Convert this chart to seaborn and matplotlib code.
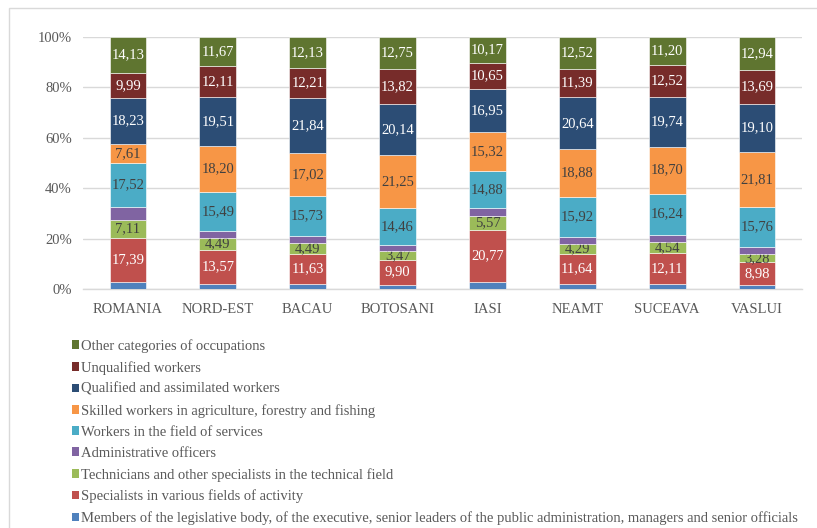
import matplotlib
matplotlib.use("Agg")
import matplotlib.pyplot as plt
from matplotlib.patches import Patch, Rectangle
from matplotlib.ticker import FuncFormatter
import seaborn as sns

regions = ["ROMANIA", "NORD-EST", "BACAU", "BOTOSANI", "IASI", "NEAMT", "SUCEAVA", "VASLUI"]

# Occupation shares (%) per region, bottom to top of each bar
members = [2.91, 2.06, 2.10, 1.75, 2.70, 2.10, 2.05, 1.60]
specialists = [17.39, 13.57, 11.63, 9.90, 20.77, 11.64, 12.11, 8.98]
technicians = [7.11, 4.49, 4.49, 3.47, 5.57, 4.29, 4.54, 3.28]
administrative = [5.11, 2.90, 2.85, 2.46, 2.99, 2.62, 2.90, 2.84]
services = [17.52, 15.49, 15.73, 14.46, 14.88, 15.92, 16.24, 15.76]
agriculture = [7.61, 18.20, 17.02, 21.25, 15.32, 18.88, 18.70, 21.81]
qualified = [18.23, 19.51, 21.84, 20.14, 16.95, 20.64, 19.74, 19.10]
unqualified = [9.99, 12.11, 12.21, 13.82, 10.65, 11.39, 12.52, 13.69]
other = [14.13, 11.67, 12.13, 12.75, 10.17, 12.52, 11.20, 12.94]

series = [
    ("Members of the legislative body, of the executive, senior leaders of the public administration, managers and senior officials",
     members, "#4F81BD", None),
    ("Specialists in various fields of activity", specialists, "#C0504D", "white"),
    ("Technicians and other specialists in the technical field", technicians, "#9BBB59", "#404040"),
    ("Administrative officers", administrative, "#8064A2", None),
    ("Workers in the field of services", services, "#4BACC6", "#404040"),
    ("Skilled workers in agriculture, forestry and fishing", agriculture, "#F79646", "#404040"),
    ("Qualified and assimilated workers", qualified, "#2C4D75", "white"),
    ("Unqualified workers", unqualified, "#772C2A", "white"),
    ("Other categories of occupations", other, "#5F7530", "white"),
]

sns.set_theme(style="white")
plt.rcParams["font.family"] = ["Liberation Serif", "DejaVu Serif"]

W, H = 817, 528
fig = plt.figure(figsize=(W / 100, H / 100), dpi=100)
ax = fig.add_axes([83 / W, 1 - 289 / H, (802 - 83) / W, (289 - 37) / H])

# Outer chart frame
fig.patches.append(Rectangle((9 / W, -0.2), 1.5, 1.2 - 8 / H, transform=fig.transFigure,
                             fill=False, edgecolor="#D9D9D9", linewidth=1.0, zorder=0))

fs = 10.5
bottom = [0.0] * len(regions)
for name, vals, color, txt in series:
    sns.barplot(x=regions, y=vals, bottom=bottom, color=color, saturation=1, width=0.41,
                edgecolor="white", linewidth=0.4, ax=ax, zorder=3)
    if txt is not None:
        ax.bar_label(ax.containers[-1], labels=[f"{v:.2f}".replace(".", ",") for v in vals],
                     label_type="center", color=txt, fontsize=fs)
    bottom = [b + v for b, v in zip(bottom, vals)]

ax.set_ylim(0, 100)
ax.set_xlim(-0.5, len(regions) - 0.5)
ax.set_yticks(range(0, 101, 20))
ax.yaxis.set_major_formatter(FuncFormatter(lambda v, p: f"{v:.0f}%"))
ax.grid(axis="y", color="#D9D9D9", linewidth=1.0, zorder=0)
ax.set_axisbelow(True)
for s in ["top", "right", "left"]:
    ax.spines[s].set_visible(False)
ax.spines["bottom"].set_color("#D9D9D9")
ax.spines["bottom"].set_linewidth(1.0)
ax.tick_params(axis="y", length=0, pad=8, labelsize=fs, labelcolor="#595959")
ax.tick_params(axis="x", length=0, pad=10, labelsize=fs, labelcolor="#595959")
ax.set_xlabel("")
ax.set_ylabel("")

handles = [Patch(facecolor=c, edgecolor="none", label=n) for n, v, c, t in reversed(series)]
fig.legend(handles=handles, loc="upper left", bbox_to_anchor=(72 / W, 1 - 339 / H),
           frameon=False, fontsize=fs, labelcolor="#595959",
           handlelength=0.5, handleheight=0.5, handletextpad=0.15,
           labelspacing=0.55, borderaxespad=0, borderpad=0)

fig.savefig("out.png", dpi=100)
